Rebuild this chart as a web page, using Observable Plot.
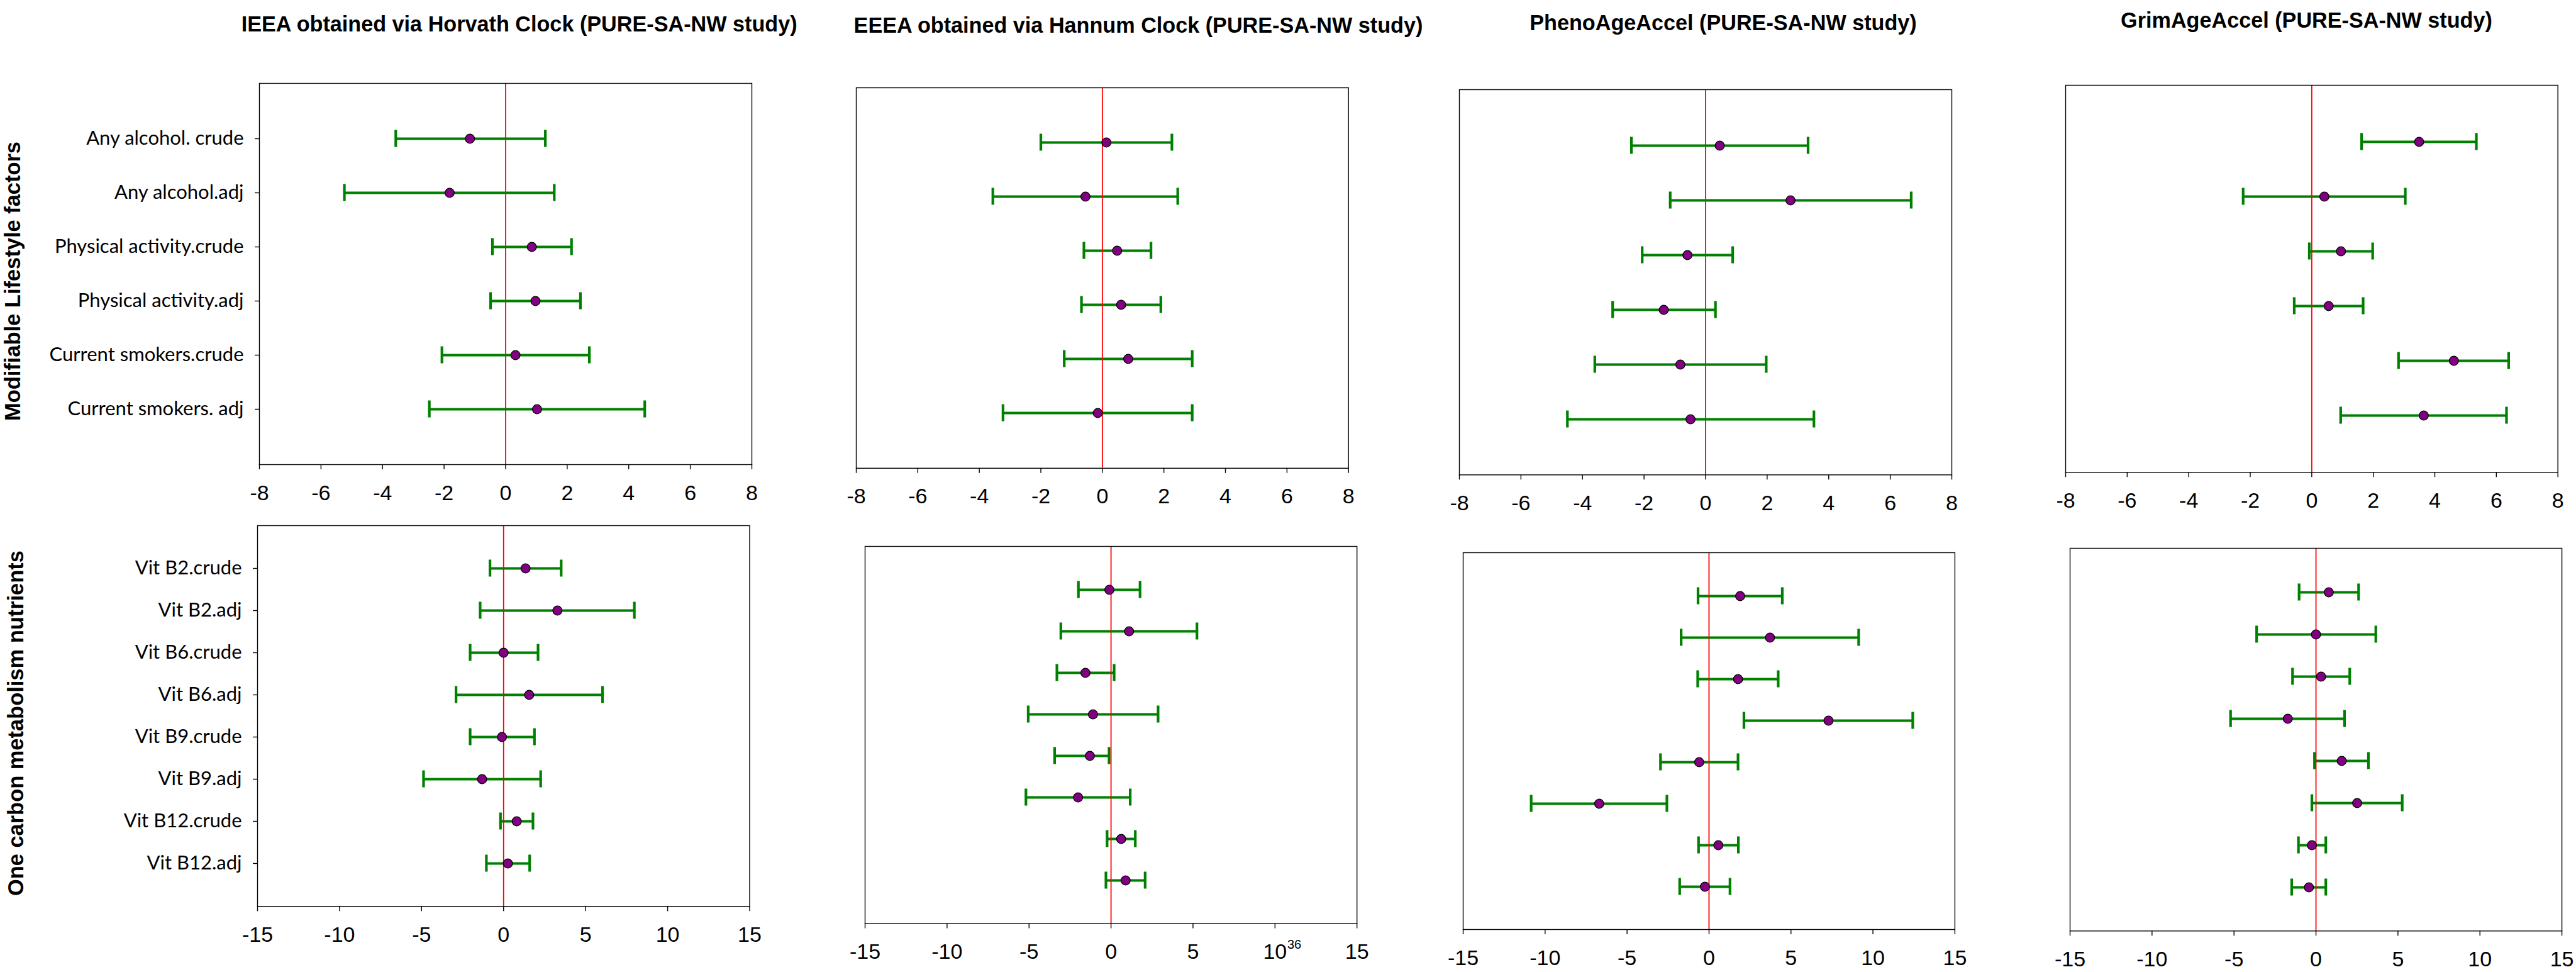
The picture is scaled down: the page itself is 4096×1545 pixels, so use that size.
<!DOCTYPE html>
<html>
<head>
<meta charset="utf-8">
<script src="https://cdn.jsdelivr.net/npm/d3@7"></script>
<script src="https://cdn.jsdelivr.net/npm/@observablehq/plot@0.6"></script>
<style>
html, body { margin: 0; padding: 0; background: #fff; }
#fig { position: relative; width: 4096px; height: 1545px; overflow: hidden; background: #fff; }
#fig svg { position: absolute; overflow: visible; }
</style>
</head>
<body>
<div id="fig"></div>
<script>
// ---------- data ----------
const lifestyleLabels = ["Any alcohol. crude", "Any alcohol.adj", "Physical activity.crude", "Physical activity.adj", "Current smokers.crude", "Current smokers. adj"];
const vitaminLabels = ["Vit B2.crude", "Vit B2.adj", "Vit B6.crude", "Vit B6.adj", "Vit B9.crude", "Vit B9.adj", "Vit B12.crude", "Vit B12.adj"];
const clockTitles = ["IEEA obtained via Horvath Clock (PURE-SA-NW study)", "EEEA obtained via Hannum Clock (PURE-SA-NW study)", "PhenoAgeAccel (PURE-SA-NW study)", "GrimAgeAccel (PURE-SA-NW study)"];
const groupTitles = ["Modifiable Lifestyle factors", "One carbon metabolism nutrients"];
const xTicksLifestyle = [-8, -6, -4, -2, 0, 2, 4, 6, 8];
const xTicksVitamin = [-15, -10, -5, 0, 5, 10, 15];

// [lower CI, estimate, upper CI]
const horvathLifestyle = [[-3.57, -1.16, 1.29], [-5.24, -1.82, 1.58], [-0.43, 0.85, 2.14], [-0.49, 0.97, 2.43], [-2.07, 0.32, 2.72], [-2.48, 1.02, 4.52]];
const hannumLifestyle  = [[-2.00, 0.13, 2.26], [-3.56, -0.55, 2.45], [-0.60, 0.48, 1.58], [-0.68, 0.61, 1.90], [-1.24, 0.84, 2.92], [-3.23, -0.15, 2.92]];
const phenoLifestyle   = [[-2.41, 0.46, 3.33], [-1.15, 2.76, 6.68], [-2.06, -0.59, 0.88], [-3.02, -1.36, 0.32], [-3.60, -0.82, 1.97], [-4.49, -0.49, 3.52]];
const grimLifestyle    = [[1.62, 3.49, 5.35], [-2.23, 0.41, 3.04], [-0.08, 0.95, 1.98], [-0.57, 0.55, 1.67], [2.82, 4.62, 6.40], [0.94, 3.64, 6.33]];

const horvathVitamin = [[-0.83, 1.34, 3.51], [-1.43, 3.28, 7.97], [-2.04, 0.00, 2.10], [-2.90, 1.56, 6.03], [-2.04, -0.10, 1.88], [-4.88, -1.31, 2.26], [-0.19, 0.80, 1.79], [-1.05, 0.26, 1.59]];
const hannumVitamin  = [[-1.99, -0.10, 1.77], [-3.06, 1.10, 5.24], [-3.30, -1.56, 0.19], [-5.05, -1.10, 2.87], [-3.44, -1.29, -0.12], [-5.19, -2.01, 1.17], [-0.24, 0.62, 1.48], [-0.31, 0.89, 2.08]];
const phenoVitamin   = [[-0.67, 1.90, 4.47], [-1.70, 3.72, 9.13], [-0.69, 1.77, 4.22], [2.13, 7.29, 12.43], [-2.96, -0.60, 1.77], [-10.85, -6.70, -2.57], [-0.64, 0.57, 1.79], [-1.79, -0.25, 1.28]];
const grimVitamin    = [[-1.03, 0.78, 2.60], [-3.62, 0.00, 3.65], [-1.43, 0.31, 2.06], [-5.21, -1.72, 1.74], [-0.09, 1.57, 3.20], [-0.25, 2.51, 5.26], [-1.07, -0.25, 0.60], [-1.48, -0.43, 0.60]];

// ---------- layout (frame boxes: left, top, width, height) ----------
const GREEN = "#008000", PURPLE = "#800080";
const panels = [
  {rows: lifestyleLabels, values: horvathLifestyle, ticks: xTicksLifestyle, box: [412, 132.4, 783, 606], yAxis: true},
  {rows: lifestyleLabels, values: hannumLifestyle, ticks: xTicksLifestyle, box: [1361.4, 139.3, 782.7, 604.8]},
  {rows: lifestyleLabels, values: phenoLifestyle, ticks: xTicksLifestyle, box: [2319.5, 142.2, 783, 612.3]},
  {rows: lifestyleLabels, values: grimLifestyle, ticks: xTicksLifestyle, box: [3284, 135.3, 782.7, 615.3]},
  {rows: vitaminLabels, values: horvathVitamin, ticks: xTicksVitamin, box: [409, 835.4, 782.5, 605.3], yAxis: true},
  {rows: vitaminLabels, values: hannumVitamin, ticks: xTicksVitamin, box: [1374.5, 867.5, 782.2, 599.6]},
  {rows: vitaminLabels, values: phenoVitamin, ticks: xTicksVitamin, box: [2326, 877.8, 781.9, 599]},
  {rows: vitaminLabels, values: grimVitamin, ticks: xTicksVitamin, box: [3291, 870.9, 782.1, 608.3]}
];

const fig = document.getElementById("fig");

function drawPanel(p) {
  const [fx, fy, fw, fh] = p.box;
  const ml = p.yAxis ? 340 : 40, mr = 40, mt = 4, mb = 80;
  const data = p.rows.map((label, i) => ({label, lo: p.values[i][0], est: p.values[i][1], hi: p.values[i][2]}));
  const svg = Plot.plot({
    width: ml + fw + mr,
    height: mt + fh + mb,
    marginLeft: ml, marginRight: mr, marginTop: mt, marginBottom: mb,
    style: {fontFamily: "'Liberation Sans', Arial, sans-serif", background: "transparent", overflow: "visible", maxWidth: "none"},
    x: {domain: [p.ticks[0], p.ticks[p.ticks.length - 1]]},
    y: {type: "point", domain: p.rows, padding: 1, axis: p.yAxis ? undefined : null},
    marks: [
      Plot.axisX({ticks: p.ticks, tickSize: 8, tickPadding: 24, tickFormat: d => String(d), fontSize: 34, label: null, strokeWidth: 1.4, stroke: "black", fill: "black"}),
      p.yAxis ? Plot.axisY({tickSize: 7, tickPadding: 18, fontSize: 31, fontFamily: "Lato", label: null, strokeWidth: 1.4, stroke: "black", fill: "black"}) : null,
      Plot.ruleY(data, {y: "label", x1: "lo", x2: "hi", stroke: GREEN, strokeWidth: 4.2}),
      Plot.ruleX(data, {x: "lo", y1: "label", y2: "label", insetTop: -13.5, insetBottom: -13.5, stroke: GREEN, strokeWidth: 4.2}),
      Plot.ruleX(data, {x: "hi", y1: "label", y2: "label", insetTop: -13.5, insetBottom: -13.5, stroke: GREEN, strokeWidth: 4.2}),
      Plot.ruleX([0], {stroke: "#ff0000", strokeWidth: 1.8}),
      Plot.dot(data, {x: "est", y: "label", r: 7.3, fill: PURPLE, stroke: "black", strokeWidth: 1.2}),
      Plot.frame({stroke: "black", strokeWidth: 1.4})
    ]
  });
  svg.style.left = (fx - ml) + "px";
  svg.style.top = (fy - mt) + "px";
  fig.appendChild(svg);
}
panels.forEach(drawPanel);

// ---------- titles overlay ----------
const overlay = d3.select(fig).append("svg")
  .attr("width", 4096).attr("height", 1545)
  .style("left", "0px").style("top", "0px").style("pointer-events", "none");

const titlePos = [[825.6, 49.7], [1810, 51.8], [2740, 48.4], [3667.5, 44.4]];
clockTitles.forEach((t, i) => {
  overlay.append("text")
    .attr("x", titlePos[i][0]).attr("y", titlePos[i][1])
    .attr("text-anchor", "middle")
    .attr("font-family", "'Liberation Sans', Arial, sans-serif")
    .attr("font-weight", "bold").attr("font-size", 34.2)
    .attr("fill", "black")
    .text(t);
});

const groupPos = [[32, 447, 444], [37, 1149.6, 549]];
groupTitles.forEach((t, i) => {
  const [x, y, len] = groupPos[i];
  overlay.append("text")
    .attr("transform", `translate(${x},${y}) rotate(-90)`)
    .attr("text-anchor", "middle")
    .attr("font-family", "'Liberation Sans', Arial, sans-serif")
    .attr("font-weight", "bold").attr("font-size", 34.2)
    .attr("textLength", len).attr("lengthAdjust", "spacingAndGlyphs")
    .attr("fill", "black")
    .text(t);
});

// stray superscript next to the "10" tick of the Hannum nutrients panel
overlay.append("text")
  .attr("x", 2047).attr("y", 1507.7)
  .attr("font-family", "'Liberation Sans', Arial, sans-serif")
  .attr("font-size", 20).attr("fill", "black")
  .text("36");
</script>
</body>
</html>
